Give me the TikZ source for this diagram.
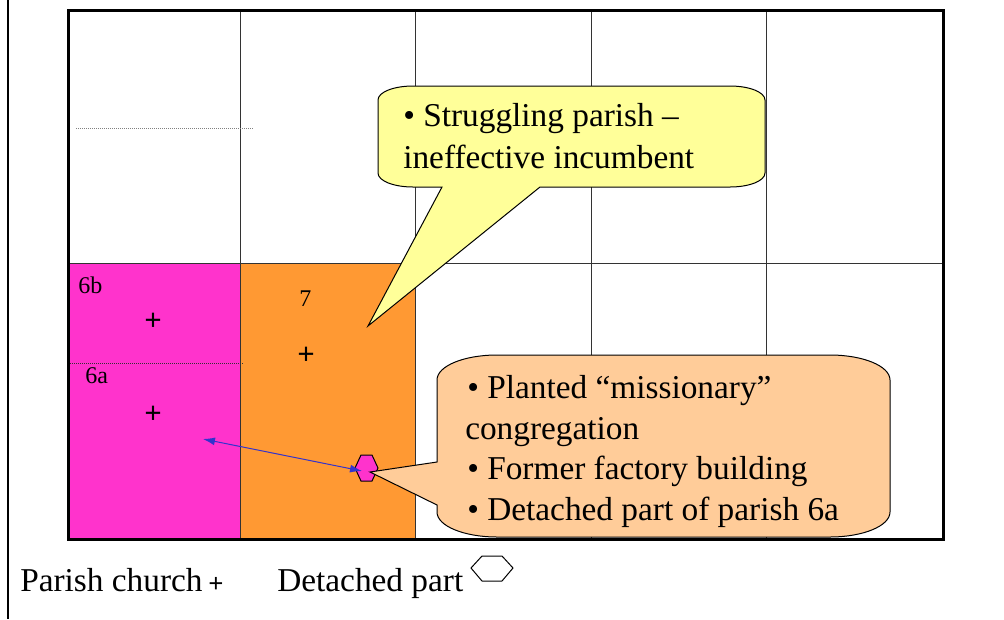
\documentclass[tikz,border=0pt]{standalone}
\usepackage{fontspec}
\setmainfont{Liberation Serif}
\usetikzlibrary{arrows.meta}
\definecolor{parpink}{HTML}{FF33CC}
\definecolor{parorange}{HTML}{FF9933}
\definecolor{calyellow}{HTML}{FFFF99}
\definecolor{calpeach}{HTML}{FFCC99}
\definecolor{gridgray}{HTML}{333333}
\definecolor{arrowblue}{HTML}{3333CC}
\begin{document}
\begin{tikzpicture}[x=0.75pt,y=-0.75pt,
  gridline/.style={draw=gridgray,line width=0.75pt},
  border/.style={draw=black,line width=2.25pt},
  dotline/.style={line width=0.75pt,dash pattern=on 0.75pt off 0.75pt},
  callout/.style={draw=black,line width=0.75pt,line join=miter},
  bigtext/.style={inner sep=0pt,anchor=base west,font=\fontsize{25}{30}\selectfont},
  smalllabel/.style={inner sep=0pt,anchor=base west,font=\fontsize{18}{21}\selectfont},
  churchmark/.style={inner sep=0pt,font=\fontsize{23}{26}\selectfont\bfseries},
  hexmark/.style={draw=black,line width=0.75pt,line join=miter}]
\useasboundingbox (0,0) rectangle (1004,619);
% left page rule
\draw[line width=1.1pt] (8,0) -- (8,619);
% parish fills
\fill[parpink] (68,263) rectangle (240,539);
\fill[parorange] (240,263) rectangle (415,539);
% grid
\foreach \gx in {240,415,591,766} \draw[gridline] (\gx,10) -- (\gx,539);
\draw[gridline] (68,263) -- (943,263);
% dotted boundaries
\draw[dotline,draw=gray] (76,128) -- (253,128);
\draw[dotline,draw=gridgray] (68,363) -- (244,363);
% labels
\node[smalllabel] (l6b) at (78,293) {6b};
\node[smalllabel] (l7) at (299,306) {7};
\node[smalllabel] (l6a) at (85,383) {6a};
% parish churches
\node[churchmark] (c6b) at (153,322) {+};
\node[churchmark] (c7) at (306,356) {+};
\node[churchmark] (c6a) at (153,415) {+};
% detached part
\draw[hexmark,fill=parpink] (355,468) -- (361,455) -- (372,455) -- (378,468) -- (372,481) -- (361,481) -- cycle;
\coordinate (hexC) at (366,468);
\coordinate (arrA) at (203,439);
\coordinate (arrB) at (362,471);
\draw[arrowblue,line width=0.75pt,{Latex[length=9pt,width=6pt]}-{Latex[length=9pt,width=6pt]}] (arrA) -- (arrB);
% yellow callout
\coordinate (ytip) at (368,326);
\draw[callout,fill=calyellow]
  (378,100) .. controls (378,92) and (394,86) .. (413,86)
  -- (730,86) .. controls (749,86) and (765,92) .. (765,100)
  -- (765,173) .. controls (765,181) and (749,187) .. (730,187)
  -- (540,187) -- (ytip) -- (442,187)
  -- (413,187) .. controls (394,187) and (378,181) .. (378,173) -- cycle;
\node[bigtext] (y1) at (403,126) {• Struggling parish –};
\node[bigtext] (y2) at (403,168) {ineffective incumbent};
% orange callout
\coordinate (otip) at (370,472);
\draw[callout,fill=calpeach]
  (437,380) .. controls (437,366) and (464,355) .. (497,355)
  -- (830,355) .. controls (863,355) and (890,366) .. (890,380)
  -- (890,512) .. controls (890,526) and (863,537) .. (830,537)
  -- (497,537) .. controls (464,537) and (437,526) .. (437,512)
  -- (437,505) -- (otip) -- (437,462) -- cycle;
\node[bigtext] (o1) at (467,398) {• Planted “missionary”};
\node[bigtext] (o2) at (465,439) {congregation};
\node[bigtext] (o3) at (467,479) {• Former factory building};
\node[bigtext] (o4) at (467,520) {• Detached part of parish 6a};
% outer border
\draw[border] (68,10) rectangle (943,539);
% legend
\node[bigtext] (leg1) at (20,591) {Parish church};
\node[inner sep=0pt,font=\fontsize{20}{22}\selectfont\bfseries] (legplus) at (216,585) {+};
\node[bigtext] (leg2) at (277,591) {Detached part};
\draw[hexmark] (471,568) -- (482,556) -- (502,556) -- (513,568) -- (502,581) -- (482,581) -- cycle;
\end{tikzpicture}
\end{document}
